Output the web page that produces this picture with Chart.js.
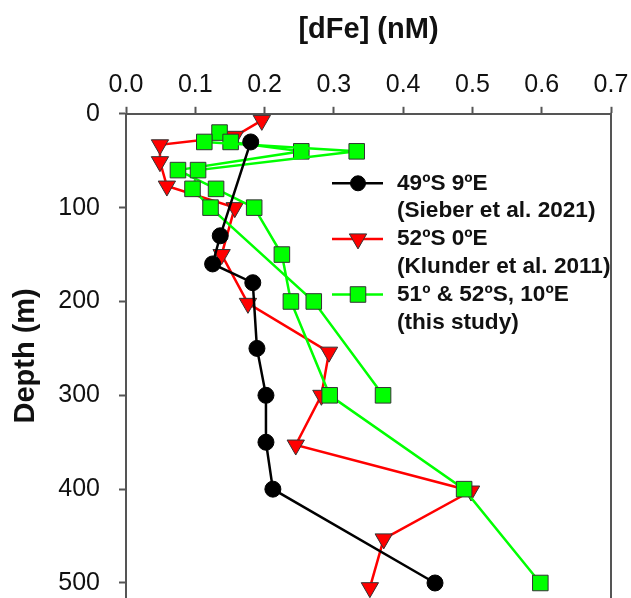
<!DOCTYPE html>
<html>
<head>
<meta charset="utf-8">
<script src="https://cdn.jsdelivr.net/npm/chart.js@4.4.1/dist/chart.umd.min.js"></script>
<style>
  html, body { margin: 0; padding: 0; background: #fff; overflow: hidden; }
  #wrap { width: 631px; height: 598px; }
</style>
</head>
<body>
<div id="wrap"><canvas id="chart-dfe" width="631" height="598"></canvas></div>
<script>
// dissolved Fe (nM) against depth (m)
const sieberDepth = [30, 130, 160, 180, 250, 300, 350, 400, 500];
const sieberFe = [0.180, 0.136, 0.125, 0.183, 0.189, 0.202, 0.202, 0.212, 0.446];

const klunderDepth = [7, 24, 33, 51, 77, 100, 150, 202, 254, 300, 353, 402, 453, 505];
const klunderFe = [0.196, 0.157, 0.049, 0.049, 0.059, 0.157, 0.138, 0.176, 0.293, 0.282, 0.245, 0.498, 0.372, 0.352];

// this study: two stations, two lines, one legend entry
const stationADepth = [30, 40, 60, 80, 100, 200, 300];
const stationAFe = [0.113, 0.333, 0.104, 0.096, 0.122, 0.271, 0.371];
const stationBDepth = [20, 30, 40, 60, 80, 100, 150, 200, 300, 400, 500];
const stationBFe = [0.135, 0.151, 0.253, 0.075, 0.130, 0.185, 0.225, 0.238, 0.294, 0.488, 0.598];

const feTicks = [0, 0.1, 0.2, 0.3, 0.4, 0.5, 0.6, 0.7];
const depthTicks = [0, 100, 200, 300, 400, 500];

const legendLabels = [
  [`49ºS 9ºE`, `(Sieber et al. 2021)`],
  [`52ºS 0ºE`, `(Klunder et al. 2011)`],
  [`51º & 52ºS, 10ºE`, `(this study)`]
];

const toPoints = (fe, depth) => fe.map((x, i) => ({ x, y: depth[i] }));

Chart.defaults.font.family = `'Liberation Sans', Arial, sans-serif`;
Chart.defaults.color = `#111`;

const axisGray = `#555`;

const black = {
  data: toPoints(sieberFe, sieberDepth),
  borderColor: `#000`, borderWidth: 2.5,
  pointStyle: `circle`, pointRadius: 8,
  pointBackgroundColor: `#000`, pointBorderColor: `#000`, pointBorderWidth: 1
};
const green = (fe, depth) => ({
  data: toPoints(fe, depth),
  borderColor: `#00ff00`, borderWidth: 2.5,
  pointStyle: `rect`, pointRadius: 11,
  pointBackgroundColor: `#00ff00`, pointBorderColor: `#333`, pointBorderWidth: 1
});
const red = {
  data: toPoints(klunderFe, klunderDepth),
  borderColor: `#ff0000`, borderWidth: 2.5,
  pointStyle: `triangle`, pointRotation: 180, pointRadius: 10,
  pointBackgroundColor: `#ff0000`, pointBorderColor: `#333`, pointBorderWidth: 1
};

// first dataset is drawn on top
const datasets = [black, green(stationAFe, stationADepth), green(stationBFe, stationBDepth), red]
  .map(d => ({ ...d, showLine: true, tension: 0, clip: false }));

// tick padding would otherwise push the plot edges in
const noEdgePadding = s => {
  s.paddingTop = 0;
  s.paddingBottom = 0;
  s.paddingLeft = 0;
  s.paddingRight = 0;
};

const frameRight = {
  id: `frameRight`,
  afterDraw(chart) {
    const { ctx, chartArea: a } = chart;
    ctx.save();
    ctx.strokeStyle = axisGray;
    ctx.lineWidth = 2;
    ctx.beginPath();
    ctx.moveTo(a.right, a.top - 1);
    ctx.lineTo(a.right, a.bottom);
    ctx.stroke();
    ctx.restore();
  }
};

const insideLegend = {
  id: `insideLegend`,
  afterDatasetsDraw(chart) {
    const { ctx } = chart;
    const ds = chart.data.datasets;
    const entries = [ds[0], ds[3], ds[1]];
    const lineX = 332, markX = 358, textX = 397, top = 183.3, gap = 27.8;
    ctx.save();
    ctx.font = `bold 22.6px 'Liberation Sans', Arial, sans-serif`;
    ctx.textBaseline = `middle`;
    entries.forEach((d, i) => {
      const y = top + i * 2 * gap;
      ctx.strokeStyle = d.borderColor;
      ctx.lineWidth = 2.5;
      ctx.beginPath();
      ctx.moveTo(lineX, y);
      ctx.lineTo(lineX + 51, y);
      ctx.stroke();
      ctx.fillStyle = d.pointBackgroundColor;
      ctx.strokeStyle = d.pointBorderColor;
      ctx.lineWidth = d.pointBorderWidth;
      Chart.helpers.drawPoint(ctx, {
        pointStyle: d.pointStyle,
        rotation: d.pointRotation || 0,
        radius: d.pointStyle === `circle` ? 7.5 : d.pointRadius,
        borderWidth: d.pointBorderWidth
      }, markX, y);
      ctx.fillStyle = `#111`;
      legendLabels[i].forEach((t, j) => ctx.fillText(t, textX, y + j * gap));
    });
    ctx.restore();
  }
};

new Chart(document.getElementById(`chart-dfe`), {
  type: `scatter`,
  data: { datasets },
  options: {
    responsive: false,
    animation: false,
    layout: { autoPadding: false, padding: { left: 0, right: 20, top: 0, bottom: 0 } },
    plugins: { legend: { display: false }, tooltip: { enabled: false } },
    scales: {
      x: {
        type: `linear`, position: `top`, min: 0, max: 0.7,
        afterBuildTicks: s => { s.ticks = feTicks.map(value => ({ value })); },
        afterFit: s => { s.height = 113.8; noEdgePadding(s); },
        ticks: { padding: 7, font: { size: 25 }, maxRotation: 0, autoSkip: false, callback: v => v.toFixed(1) },
        grid: { drawOnChartArea: false, tickLength: 7, tickWidth: 2, tickColor: axisGray },
        border: { color: axisGray, width: 2 },
        title: { display: true, text: `[dFe] (nM)`, font: { size: 29, weight: `bold`, lineHeight: 1.2 }, padding: { top: 13, bottom: 0 } }
      },
      y: {
        type: `linear`, position: `left`, reverse: true, min: 0, max: 516,
        afterBuildTicks: s => { s.ticks = depthTicks.map(value => ({ value })); },
        afterFit: s => { s.width = 126; noEdgePadding(s); },
        ticks: { padding: 19, font: { size: 25 } },
        grid: { drawOnChartArea: false, tickLength: 7, tickWidth: 2, tickColor: axisGray },
        border: { color: axisGray, width: 2 },
        title: { display: true, text: `Depth (m)`, font: { size: 29, weight: `bold`, lineHeight: 1.2 }, padding: { top: 8.5, bottom: 0 } }
      }
    }
  },
  plugins: [frameRight, insideLegend]
});
</script>
</body>
</html>
